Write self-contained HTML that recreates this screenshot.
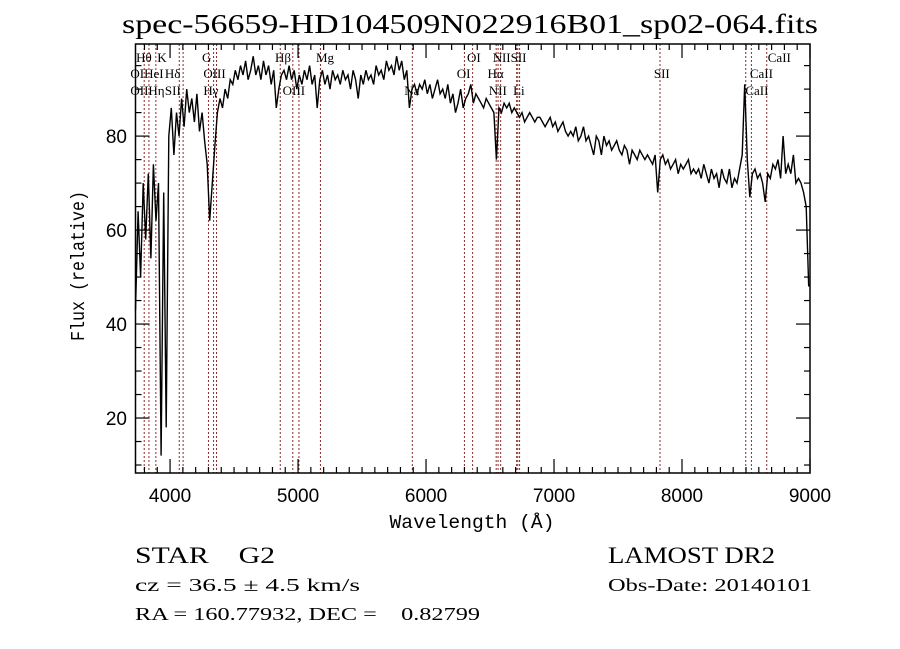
<!DOCTYPE html>
<html><head><meta charset="utf-8"><style>
html,body{margin:0;padding:0;background:#fff;}
svg{display:block;}
text{white-space:pre;}
</style></head><body>
<svg id="chart" width="900" height="649" xmlns="http://www.w3.org/2000/svg" xml:space="preserve">
<rect x="0" y="0" width="900" height="649" fill="#fff"/>
<text x="470" y="33" text-anchor="middle" font-family="Liberation Serif, serif" font-size="27" textLength="696" lengthAdjust="spacingAndGlyphs">spec-56659-HD104509N022916B01_sp02-064.fits</text>
<g id="lines"></g>
<g id="labels"></g>
<path id="spec" fill="none" stroke="#000" stroke-width="1.4"/>
<g id="axes"></g>
<text x="472" y="528" text-anchor="middle" font-family="Liberation Mono, monospace" font-size="19" textLength="165" lengthAdjust="spacingAndGlyphs">Wavelength (Å)</text>
<text transform="translate(84,266) rotate(-90)" text-anchor="middle" font-family="Liberation Mono, monospace" font-size="19" textLength="150" lengthAdjust="spacingAndGlyphs">Flux (relative)</text>
<g font-family="Liberation Serif, serif">
<text x="135" y="563" font-size="23" textLength="140" lengthAdjust="spacingAndGlyphs">STAR    G2</text>
<text x="608" y="563" font-size="23" textLength="167" lengthAdjust="spacingAndGlyphs">LAMOST DR2</text>
<text x="135" y="591" font-size="18" textLength="225" lengthAdjust="spacingAndGlyphs">cz = 36.5 ± 4.5 km/s</text>
<text x="608" y="591" font-size="18" textLength="204" lengthAdjust="spacingAndGlyphs">Obs-Date: 20140101</text>
<text x="135" y="620" font-size="18" textLength="345" lengthAdjust="spacingAndGlyphs">RA = 160.77932, DEC =    0.82799</text>
</g>
</svg>
<script>
const waveStart = 3730;
const waveStep = 20;
const flux = [
43,64,50,70,58,72,54,74,62,70,
12,68,18,80,86,76,85,80,88,82,
90,85,88,83,89,81,85,79,74,62,
70,78,85,88,86,90,88,92,91,94,
92,95,93,96,92,94,97,93,95,92,
96,93,95,91,94,86,90,93,94,92,
95,92,94,90,93,91,94,92,95,91,
93,86,92,94,91,93,90,94,92,93,
91,94,92,93,90,94,92,88,93,91,
94,92,93,91,95,93,94,92,96,94,
95,93,97,94,96,92,94,86,90,91,
89,91,90,92,89,91,88,90,92,89,
90,88,91,87,89,85,87,90,86,88,
89,91,87,89,88,87,86,88,87,86,
85,75,86,85,87,86,87,85,86,85,
84,85,83,84,85,84,83,84,84,83,
82,83,84,82,83,81,82,83,81,80,
81,80,82,79,80,82,79,80,78,76,
80,79,76,80,78,79,77,78,79,77,
76,78,77,74,77,76,75,77,76,75,
76,75,74,76,68,75,76,74,75,73,
74,75,72,74,73,74,75,72,73,72,
73,71,74,72,70,73,71,72,69,73,
71,70,73,69,71,70,73,76,91,75,
67,72,73,71,72,70,66,72,71,74,
73,75,71,80,72,74,72,76,70,71,
70,68,65,48
];
const lineWaves = [3798,3835,3889,4072,4102,4300,4340,4363,4861,4959,5007,5175,5893,6300,6364,6548,6563,6583,6708,6717,6731,7828,8498,8542,8662];
const xTicks = [4000,5000,6000,7000,8000,9000];
const yTicks = [20,40,60,80];
const labelText = ["Hθ","K","G","Hβ","Mg","OI","NIISII","CaII","OIHeI","Hδ","OIII","OI","Hα","SII","CaII","OIIHη","SII","Hγ","OIII","Na","NII","Li","CaII"];
const labelWave = [3735,3900,4250,4820,5140,6320,6520,8670,3690,3960,4260,6240,6480,7780,8530,3690,3960,4260,4880,5830,6490,6680,8495];
const labelRow = [0,0,0,0,0,0,0,0,1,1,1,1,1,1,1,2,2,2,2,2,2,2,2];

const X0=135.5,X1=810,Y0=44,Y1=473;
const XMIN=3730,XMAX=9000,YMIN=8.3,YMAX=99.6;
const sx=w=>X0+(w-XMIN)/(XMAX-XMIN)*(X1-X0);
const sy=f=>Y1-(f-YMIN)/(YMAX-YMIN)*(Y1-Y0);
const NS='http://www.w3.org/2000/svg';
function mk(tag,attrs,parent){const e=document.createElementNS(NS,tag);for(const k in attrs)e.setAttribute(k,attrs[k]);parent.appendChild(e);return e;}

let d='';
flux.forEach((f,i)=>{const w=Math.min(waveStart+i*waveStep,XMAX);d+=(i?'L':'M')+sx(w).toFixed(1)+','+sy(Math.max(f,YMIN)).toFixed(1);});
document.getElementById('spec').setAttribute('d',d);

const lg=document.getElementById('lines');
lineWaves.forEach(w=>{
  const l=mk('line',{x1:sx(w),x2:sx(w),y1:Y0,y2:Y1,stroke:'#8b2a2a','stroke-width':1,'stroke-dasharray':'2,2'},lg);
  
  
});
const lab=document.getElementById('labels');
const rowY=[62,78,95];
labelText.forEach((t,i)=>{
  const e=mk('text',{x:sx(labelWave[i]),y:rowY[labelRow[i]],'font-family':'Liberation Serif, serif','font-size':13},lab);
  e.textContent=t;
  
  
});

const ax=document.getElementById('axes');
const fr=mk('rect',{x:X0,y:Y0,width:X1-X0,height:Y1-Y0,fill:'none',stroke:'#000','stroke-width':1.5},ax);


for(let w=3800;w<=9000;w+=100){
  const major=w%1000===0,L=major?14:6,x=sx(w);
  const t1=mk('line',{x1:x,x2:x,y1:Y1,y2:Y1-L,stroke:'#000','stroke-width':1.2},ax);
  
  
  const t2=mk('line',{x1:x,x2:x,y1:Y0,y2:Y0+L,stroke:'#000','stroke-width':1.2},ax);
  
  
}
xTicks.forEach(w=>{
  const e=mk('text',{x:sx(w),y:502,'text-anchor':'middle','font-family':'Liberation Sans, sans-serif','font-size':19},ax);
  e.textContent=w;
  
  
});
for(let f=10;f<=95;f+=5){
  const major=f%20===0,L=major?14:6,y=sy(f);
  const t1=mk('line',{x1:X0,x2:X0+L,y1:y,y2:y,stroke:'#000','stroke-width':1.2},ax);
  
  
  const t2=mk('line',{x1:X1,x2:X1-L,y1:y,y2:y,stroke:'#000','stroke-width':1.2},ax);
  
  
}
yTicks.forEach(f=>{
  const e=mk('text',{x:127,y:sy(f)+7,'text-anchor':'end','font-family':'Liberation Sans, sans-serif','font-size':19},ax);
  e.textContent=f;
  
  
});
</script>
</body></html>
